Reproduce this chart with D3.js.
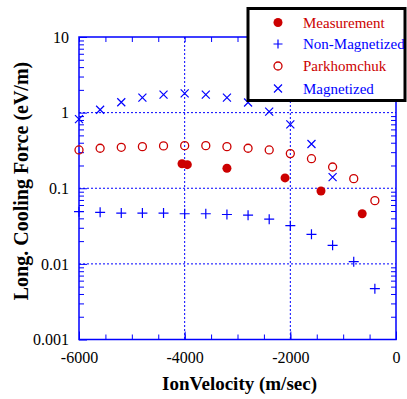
<!DOCTYPE html>
<html><head><meta charset="utf-8">
<script src="https://cdn.jsdelivr.net/npm/d3@7/dist/d3.min.js"></script>
<style>
html,body{margin:0;padding:0;background:#fff;}
svg, svg text{font-family:"Liberation Serif","Times New Roman",serif;}
svg{display:block;}
</style></head>
<body>
<svg id="chart" width="407" height="399"></svg>
<script>
// ---- data ----
const velGrid = [-6000,-5600,-5200,-4800,-4400,-4000,-3600,-3200,-2800,-2400,-2000,-1600,-1200,-800,-400];
const measVel = [-4050,-3950,-3200,-2100,-1420,-640];
const measForce = [0.211,0.205,0.184,0.137,0.092,0.046];
const nonMagForce = [0.049,0.048,0.047,0.047,0.047,0.046,0.046,0.045,0.044,0.039,0.032,0.0246,0.0176,0.0107,0.0047];
const parkForce = [0.321,0.338,0.348,0.355,0.363,0.366,0.366,0.355,0.338,0.321,0.287,0.246,0.191,0.134,0.0686];
const magVel = [-6000,-5600,-5200,-4800,-4400,-4000,-3600,-3200,-2800,-2400,-2000,-1600,-1200];
const magForce = [0.82,1.09,1.37,1.58,1.73,1.80,1.73,1.58,1.36,1.03,0.70,0.385,0.14];
const xTickValues = [-6000,-4000,-2000,0];
const xTickLabels = ["-6000","-4000","-2000","0"];
const yTickValues = [10,1,0.1,0.01,0.001];
const yTickLabels = ["10","1","0.1","0.01","0.001"];
const xGridValues = [-4000,-2000];
const yGridValues = [1,0.1,0.01];
const legendLabels = ["Measurement","Non-Magnetized","Parkhomchuk","Magnetized"];

// ---- layout ----
const FONT="Liberation Serif";
const L=79, R=396, T=37, B=339.5;
const BLUE="#0000ff", RED="#cc0000";
const svg=d3.select("#chart");
const x=d3.scaleLinear().domain([-6000,0]).range([L,R]);
const y=d3.scaleLog().domain([0.001,10]).range([B,T]);

const xMinor=d3.range(-6000,1,500);
const yMinor=[];
[0.001,0.01,0.1,1].forEach(d=>{for(let k=2;k<=9;k++) yMinor.push(d*k);});

// grid
const g=svg.append("g");
g.selectAll(".gx").data(xGridValues).join("line")
 .attr("x1",d=>x(d)).attr("x2",d=>x(d)).attr("y1",T).attr("y2",B)
 .attr("stroke",BLUE).attr("stroke-width",1).attr("stroke-dasharray","2,2");
g.selectAll(".gy").data(yGridValues).join("line")
 .attr("x1",L).attr("x2",R).attr("y1",d=>y(d)).attr("y2",d=>y(d))
 .attr("stroke",BLUE).attr("stroke-width",1).attr("stroke-dasharray","2,2");

function styleAxis(sel){
  sel.attr("font-family",FONT);
  sel.select(".domain").remove();
  sel.selectAll("line").attr("stroke",BLUE).attr("stroke-width",1);
  sel.selectAll("text").attr("fill","#000").attr("font-size",16).attr("font-family",FONT);
}
// minor ticks
svg.append("g").attr("transform",`translate(0,${B})`)
 .call(d3.axisBottom(x).tickValues(xMinor).tickSize(-5).tickFormat("")).call(styleAxis);
svg.append("g").attr("transform",`translate(0,${T})`)
 .call(d3.axisTop(x).tickValues(xMinor).tickSize(-5).tickFormat("")).call(styleAxis);
svg.append("g").attr("transform",`translate(${L},0)`)
 .call(d3.axisLeft(y).tickValues(yMinor).tickSize(-5).tickFormat("")).call(styleAxis);
svg.append("g").attr("transform",`translate(${R},0)`)
 .call(d3.axisRight(y).tickValues(yMinor).tickSize(-5).tickFormat("")).call(styleAxis);
// major ticks + labels
svg.append("g").attr("transform",`translate(0,${B})`)
 .call(d3.axisBottom(x).tickValues(xTickValues).tickSize(-8).tickPadding(12)
   .tickFormat((d,i)=>xTickLabels[i])).call(styleAxis);
svg.append("g").attr("transform",`translate(${L},0)`)
 .call(d3.axisLeft(y).tickValues(yTickValues).tickSize(-8).tickPadding(10)
   .tickFormat((d,i)=>yTickLabels[i])).call(styleAxis);

// frame
svg.append("rect").attr("x",L).attr("y",T).attr("width",R-L).attr("height",B-T)
 .attr("fill","none").attr("stroke",BLUE).attr("stroke-width",1.5);

// axis titles
svg.append("text").attr("x",(L+R)/2+2).attr("y",390).attr("text-anchor","middle")
 .attr("font-family",FONT).attr("font-weight","bold").attr("font-size",19).text("IonVelocity (m/sec)");
svg.append("text").attr("transform","translate(28,181) rotate(-90)").attr("text-anchor","middle")
 .attr("font-family",FONT).attr("font-weight","bold").attr("font-size",20).text("Long. Cooling Force (eV/m)");

// markers
function plus(sel,s){sel.append("path").attr("d",`M${-s},0H${s}M0,${-s}V${s}`).attr("stroke",BLUE).attr("stroke-width",1.2).attr("fill","none");}
function cross(sel,s){sel.append("path").attr("d",`M${-s},${-s}L${s},${s}M${-s},${s}L${s},${-s}`).attr("stroke",BLUE).attr("stroke-width",1.2).attr("fill","none");}

const pts=svg.append("g");
pts.selectAll(".nm").data(velGrid).join("g")
 .attr("transform",(d,i)=>`translate(${x(d)},${y(nonMagForce[i])})`).each(function(){plus(d3.select(this),5);});
pts.selectAll(".pk").data(velGrid).join("circle")
 .attr("cx",d=>x(d)).attr("cy",(d,i)=>y(parkForce[i])).attr("r",4)
 .attr("fill","none").attr("stroke",RED).attr("stroke-width",1.3);
pts.selectAll(".mg").data(magVel).join("g")
 .attr("transform",(d,i)=>`translate(${x(d)},${y(magForce[i])})`).each(function(){cross(d3.select(this),4);});
pts.selectAll(".ms").data(measVel).join("circle")
 .attr("cx",d=>x(d)).attr("cy",(d,i)=>y(measForce[i])).attr("r",4.5).attr("fill",RED);

// legend
const lg=svg.append("g");
lg.append("rect").attr("x",248).attr("y",8.5).attr("width",157).attr("height",92)
 .attr("fill","#fff").attr("stroke","#000").attr("stroke-width",3);
const rows=[22.5,44,66,88.5];
const colors=[RED,BLUE,RED,BLUE];
legendLabels.forEach((lab,i)=>{
  const gg=lg.append("g").attr("transform",`translate(278,${rows[i]})`);
  if(i===0) gg.append("circle").attr("r",4.5).attr("fill",RED);
  if(i===1) plus(gg,4.5);
  if(i===2) gg.append("circle").attr("r",4).attr("fill","none").attr("stroke",RED).attr("stroke-width",1.3);
  if(i===3) cross(gg,4);
  lg.append("text").attr("x",303).attr("y",rows[i]+5).attr("font-size",15)
   .attr("font-family",FONT).attr("fill",colors[i]).text(lab);
});
</script>
</body></html>
